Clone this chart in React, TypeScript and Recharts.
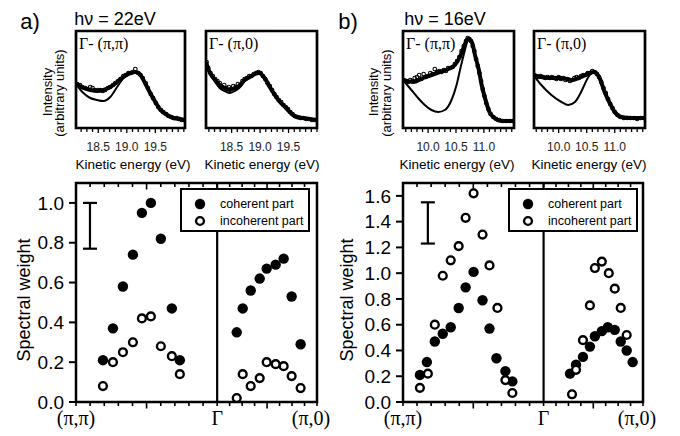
import React from 'react'
import {
  ComposedChart,
  Line,
  Scatter,
  XAxis,
  YAxis,
  ReferenceArea,
  ReferenceLine,
  ErrorBar,
  Legend,
} from 'recharts'

const SANS = "'Liberation Sans', Arial, Helvetica, sans-serif"
const SERIF = "'Liberation Serif', 'Times New Roman', serif"

// ---------- top row: energy distribution curves, [kinetic energy (eV), intensity (arb.)] ----------
const a1Fit = [[18.11, 44], [18.24, 40], [18.36, 38], [18.48, 37], [18.59, 38], [18.71, 41], [18.83, 46], [18.94, 51], [19.06, 55], [19.15, 56], [19.24, 53], [19.32, 45], [19.41, 35], [19.5, 26], [19.59, 18], [19.71, 13], [19.82, 10], [19.94, 9], [20.01, 8]]
const a1Low = [[18.11, 44], [18.24, 35], [18.36, 30], [18.48, 28], [18.59, 27], [18.71, 31], [18.83, 41], [18.94, 50], [19.06, 55]]
const a1Data = [[18.13, 44], [18.18, 43], [18.22, 41], [18.27, 40], [18.31, 39], [18.36, 41], [18.4, 40], [18.44, 38], [18.49, 38], [18.53, 38], [18.58, 37], [18.62, 38], [18.67, 40], [18.71, 41], [18.76, 43], [18.8, 45], [18.85, 47], [18.89, 49], [18.94, 52], [18.98, 53], [19.03, 55], [19.07, 55], [19.11, 56], [19.15, 59], [19.2, 55], [19.24, 53], [19.28, 50], [19.33, 45], [19.37, 40], [19.42, 34], [19.46, 30], [19.51, 25], [19.55, 21], [19.6, 18], [19.64, 16], [19.69, 14], [19.73, 12], [19.78, 11], [19.82, 10], [19.87, 10], [19.91, 9], [19.96, 8], [20.0, 8]]

const a2Fit = [[18.05, 66], [18.12, 55], [18.21, 48], [18.29, 43], [18.38, 40], [18.47, 38], [18.56, 40], [18.65, 43], [18.73, 48], [18.82, 51], [18.91, 54], [18.98, 55], [19.08, 50], [19.17, 41], [19.26, 33], [19.35, 26], [19.44, 21], [19.52, 16], [19.64, 11], [19.76, 10], [19.87, 9], [19.99, 8]]
const a2Low = [[18.05, 66], [18.12, 55], [18.21, 46], [18.29, 40], [18.38, 37], [18.47, 35], [18.56, 37], [18.65, 41], [18.73, 47], [18.82, 51], [18.91, 54]]
const a2Data = [[18.06, 66], [18.09, 60], [18.13, 55], [18.17, 52], [18.21, 49], [18.25, 47], [18.29, 45], [18.33, 41], [18.37, 43], [18.41, 40], [18.45, 41], [18.49, 39], [18.53, 42], [18.57, 41], [18.61, 44], [18.65, 43], [18.69, 47], [18.73, 49], [18.77, 50], [18.81, 52], [18.85, 52], [18.89, 54], [18.93, 55], [18.97, 56], [19.01, 55], [19.05, 52], [19.09, 49], [19.13, 45], [19.17, 42], [19.21, 38], [19.25, 34], [19.29, 31], [19.33, 28], [19.37, 26], [19.41, 23], [19.45, 21], [19.49, 19], [19.53, 16], [19.57, 14], [19.61, 12], [19.66, 11], [19.71, 10], [19.76, 10], [19.81, 9], [19.86, 9], [19.91, 8], [19.96, 8]]

const b1Fit = [[9.55, 48], [9.73, 46], [9.91, 50], [10.06, 53], [10.21, 56], [10.36, 59], [10.48, 63], [10.57, 71], [10.64, 81], [10.71, 89], [10.79, 85], [10.84, 73], [10.91, 58], [10.96, 43], [11.02, 30], [11.1, 16], [11.19, 10], [11.31, 7], [11.54, 7]]
const b1Low = [[9.55, 48], [9.7, 38], [9.82, 30], [9.94, 23], [10.06, 18], [10.18, 16], [10.3, 18], [10.42, 28], [10.51, 43], [10.58, 60], [10.66, 78], [10.71, 89]]
const b1Data = [[9.56, 48], [9.6, 47], [9.64, 46], [9.68, 48], [9.72, 47], [9.76, 50], [9.8, 51], [9.84, 53], [9.88, 49], [9.92, 54], [9.96, 51], [10.0, 52], [10.04, 55], [10.08, 54], [10.12, 59], [10.16, 56], [10.2, 57], [10.24, 56], [10.28, 58], [10.32, 57], [10.36, 60], [10.4, 60], [10.44, 61], [10.48, 64], [10.52, 67], [10.56, 71], [10.6, 77], [10.64, 82], [10.68, 87], [10.71, 90], [10.74, 89], [10.77, 87], [10.8, 82], [10.83, 77], [10.86, 69], [10.89, 62], [10.92, 55], [10.95, 47], [10.98, 39], [11.01, 32], [11.04, 25], [11.08, 19], [11.12, 14], [11.17, 11], [11.22, 9], [11.28, 8], [11.34, 7], [11.4, 7], [11.46, 7], [11.52, 7]]

const b2Fit = [[9.55, 53], [9.69, 51], [9.87, 50], [10.05, 50], [10.23, 48], [10.4, 51], [10.55, 55], [10.64, 56], [10.73, 50], [10.82, 36], [10.91, 25], [11.0, 16], [11.12, 11], [11.3, 10], [11.54, 10]]
const b2Low = [[9.55, 53], [9.69, 43], [9.87, 33], [10.05, 26], [10.17, 23], [10.29, 26], [10.4, 36], [10.52, 50], [10.61, 56], [10.64, 56]]
const b2Data = [[9.56, 53], [9.6, 52], [9.64, 51], [9.68, 52], [9.72, 51], [9.76, 50], [9.8, 51], [9.84, 50], [9.88, 51], [9.92, 50], [9.96, 49], [10.0, 51], [10.04, 49], [10.08, 50], [10.12, 48], [10.16, 49], [10.2, 47], [10.24, 48], [10.28, 50], [10.32, 51], [10.36, 50], [10.4, 52], [10.44, 53], [10.48, 53], [10.52, 55], [10.56, 55], [10.6, 57], [10.64, 56], [10.68, 54], [10.72, 51], [10.76, 46], [10.8, 40], [10.84, 35], [10.88, 29], [10.92, 24], [10.96, 20], [11.0, 16], [11.05, 13], [11.1, 11], [11.16, 10], [11.22, 10], [11.28, 10], [11.34, 10], [11.4, 9], [11.46, 10], [11.52, 10]]

const aTicksL = [18.2, 18.3, 18.4, 18.5, 18.6, 18.7, 18.8, 18.9, 19.0, 19.1, 19.2, 19.3, 19.4, 19.5, 19.6, 19.7, 19.8, 19.9, 20.0]
const aTicksR = [18.1, 18.2, 18.3, 18.4, 18.5, 18.6, 18.7, 18.8, 18.9, 19.0, 19.1, 19.2, 19.3, 19.4, 19.5, 19.6, 19.7, 19.8, 19.9, 20.0]
const bTicks = [9.6, 9.7, 9.8, 9.9, 10.0, 10.1, 10.2, 10.3, 10.4, 10.5, 10.6, 10.7, 10.8, 10.9, 11.0, 11.1, 11.2, 11.3, 11.4, 11.5]
const aLabels = [18.5, 19.0, 19.5]
const bLabels = [10.0, 10.5, 11.0]

// ---------- bottom row: spectral weight along (pi,pi) - Gamma - (pi,0) ----------
// k: distance along the cut, (pi,pi)=0, Gamma=sqrt2, (pi,0)=sqrt2+1
const GAMMA = 1.414
const K_END = 2.414
const kTicks = [0, 0.141, 0.283, 0.424, 0.566, 0.707, 0.849, 0.99, 1.131, 1.273, 1.414, 1.539, 1.664, 1.789, 1.914, 2.039, 2.164, 2.289, 2.414]
const kMajor = [0.707, 1.914]
const kLabels = [
  { k: 0, text: '(π,π)', dx: 0 },
  { k: 1.414, text: 'Γ', dx: 0 },
  { k: 2.414, text: '(π,0)', dx: -6 },
]
const SERIES = ['coherent part', 'incoherent part']

const aCohK = [0.27, 0.37, 0.47, 0.57, 0.66, 0.75, 0.85, 0.96, 1.04, 1.61, 1.67, 1.75, 1.84, 1.91, 2.0, 2.08, 2.16, 2.25]
const aCoh = [0.21, 0.37, 0.58, 0.74, 0.95, 1.0, 0.82, 0.47, 0.21, 0.35, 0.47, 0.56, 0.62, 0.67, 0.69, 0.72, 0.53, 0.29]
const aIncK = [0.27, 0.37, 0.47, 0.57, 0.66, 0.75, 0.85, 0.96, 1.04, 1.61, 1.67, 1.75, 1.84, 1.91, 2.0, 2.08, 2.16, 2.25]
const aInc = [0.08, 0.2, 0.25, 0.3, 0.42, 0.43, 0.28, 0.23, 0.14, 0.02, 0.14, 0.08, 0.12, 0.2, 0.19, 0.18, 0.13, 0.07]

const bCohK = [0.17, 0.24, 0.32, 0.4, 0.48, 0.56, 0.63, 0.71, 0.8, 0.87, 0.94, 1.03, 1.1, 1.68, 1.74, 1.81, 1.88, 1.93, 2.0, 2.06, 2.13, 2.19, 2.25, 2.31]
const bCoh = [0.21, 0.31, 0.47, 0.53, 0.58, 0.73, 0.89, 1.01, 0.79, 0.57, 0.34, 0.24, 0.16, 0.22, 0.29, 0.35, 0.43, 0.51, 0.55, 0.58, 0.56, 0.47, 0.4, 0.31]
const bIncK = [0.17, 0.25, 0.32, 0.4, 0.48, 0.56, 0.63, 0.71, 0.8, 0.87, 0.95, 1.03, 1.1, 1.7, 1.74, 1.81, 1.88, 1.93, 2.0, 2.07, 2.13, 2.19, 2.25]
const bInc = [0.11, 0.22, 0.6, 0.98, 1.1, 1.21, 1.43, 1.62, 1.3, 1.06, 0.73, 0.17, 0.07, 0.06, 0.25, 0.48, 0.75, 1.04, 1.09, 1.0, 0.88, 0.73, 0.52]

// typical error, drawn as a bar in the corner
const aErr = [{ k: 0.14, v: 0.885, err: 0.115 }]
const bErr = [{ k: 0.25, v: 1.39, err: 0.16 }]

const aYTicks = [0, 0.2, 0.4, 0.6, 0.8, 1.0]
const bYTicks = [0, 0.2, 0.4, 0.6, 0.8, 1.0, 1.2, 1.4, 1.6]

const pts = (rows: number[][]) => rows.map(([e, i]) => ({ e, i }))
const zipKV = (ks: number[], vs: number[]) => ks.map((k, idx) => ({ k, v: vs[idx] }))

const SmallRing = (p: any) => (
  <circle cx={p.cx} cy={p.cy} r={1.8} fill="none" stroke="#000" strokeWidth={1.1} />
)
const Dot = (p: any) => <circle cx={p.cx} cy={p.cy} r={5.2} fill="#000" />
const Ring = (p: any) => (
  <circle cx={p.cx} cy={p.cy} r={3.9} fill="#fff" stroke="#000" strokeWidth={2.4} />
)

function makeEnergyTick(labels: number[]) {
  return (props: any) => {
    const { x, y, payload } = props
    const v = payload.value
    const major = labels.some((l) => Math.abs(l - v) < 1e-6)
    return (
      <g>
        <line x1={x} x2={x} y1={y + 1} y2={y + (major ? 5 : 4)} stroke="#000" strokeWidth={1.3} />
        {major && (
          <text x={x} y={y + 23} textAnchor="middle" fontSize={12} fill="#222" fontFamily={SANS}>
            {v.toFixed(1)}
          </text>
        )}
      </g>
    )
  }
}

function makeKTick(plotH: number) {
  return (props: any) => {
    const { x, y, payload } = props
    const k = payload.value
    const major = kMajor.some((m) => Math.abs(m - k) < 1e-3)
    const lab = kLabels.find((l) => Math.abs(l.k - k) < 1e-3)
    const len = major ? 6.5 : 4
    return (
      <g>
        <line x1={x} x2={x} y1={y} y2={y + len} stroke="#000" strokeWidth={1.6} />
        <line x1={x} x2={x} y1={y - plotH} y2={y - plotH + len} stroke="#000" strokeWidth={1.6} />
        {lab && (
          <text x={x + lab.dx} y={y + 23} textAnchor="middle" fontSize={20} fill="#000" fontFamily={SERIF}>
            {lab.text}
          </text>
        )}
      </g>
    )
  }
}

const legendContent = (props: any) => {
  const items = (props.payload || []).filter((it: any) => SERIES.includes(it.value))
  return (
    <div
      style={{
        width: 126,
        height: 40,
        border: '2px solid #000',
        background: '#fff',
        position: 'relative',
        fontFamily: SANS,
        fontSize: 12.5,
        color: '#000',
      }}
    >
      {items.map((it: any, idx: number) => (
        <div
          key={it.value}
          style={{ position: 'absolute', left: 0, top: idx === 0 ? 6 : 22.7, height: 16, display: 'flex', alignItems: 'center', whiteSpace: 'nowrap' }}
        >
          <svg width={38} height={16}>
            {it.value === SERIES[0] ? (
              <circle cx={18} cy={8} r={5.2} fill="#000" />
            ) : (
              <circle cx={18} cy={8} r={3.9} fill="#fff" stroke="#000" strokeWidth={2.4} />
            )}
          </svg>
          <span>{it.value}</span>
        </div>
      ))}
    </div>
  )
}

function Spectrum({ left, width, domain, ticks, labels, fit, lower, data }: any) {
  return (
    <div style={{ position: 'absolute', left: left - 3, top: 28 }}>
      <ComposedChart width={width + 6} height={130} margin={{ top: 3, right: 3, left: 3, bottom: 0 }}>
        <XAxis
          type="number"
          dataKey="e"
          domain={domain}
          ticks={ticks}
          interval={0}
          allowDataOverflow
          axisLine={false}
          tickLine={false}
          tickSize={0}
          tickMargin={0}
          height={30}
          tick={makeEnergyTick(labels)}
        />
        <YAxis type="number" dataKey="i" domain={[0, 97]} hide allowDataOverflow />
        <Line data={pts(lower)} dataKey="i" type="monotone" stroke="#000" strokeWidth={2} dot={false} isAnimationActive={false} />
        <Line data={pts(fit)} dataKey="i" type="monotone" stroke="#000" strokeWidth={4} dot={false} isAnimationActive={false} />
        <Scatter data={pts(data)} dataKey="i" shape={SmallRing} isAnimationActive={false} />
        <ReferenceArea x1={domain[0]} x2={domain[1]} y1={0} y2={97} fill="none" fillOpacity={0} stroke="#000" strokeWidth={2.7} />
      </ComposedChart>
    </div>
  )
}

function WeightPanel({ left, width, yWidth, yMax, yTicks, coh, inc, err, legendLeft }: any) {
  const plotH = 219
  return (
    <div style={{ position: 'absolute', left, top: 180 }}>
      <ComposedChart width={width} height={252} margin={{ top: 3, right: 23, left: 0, bottom: 0 }}>
        <XAxis
          type="number"
          dataKey="k"
          domain={[0, K_END]}
          ticks={kTicks}
          interval={0}
          allowDataOverflow
          axisLine={false}
          tickLine={false}
          tickSize={0}
          tickMargin={0}
          height={30}
          tick={makeKTick(plotH)}
        />
        <YAxis
          type="number"
          dataKey="v"
          domain={[0, yMax]}
          ticks={yTicks}
          interval={0}
          width={yWidth}
          allowDataOverflow
          axisLine={false}
          stroke="#000"
          tickSize={7}
          tickMargin={5}
          tickLine={{ stroke: '#000', strokeWidth: 2 }}
          tick={{ fontSize: 19, fill: '#000', fontFamily: SANS }}
          tickFormatter={(v: number) => v.toFixed(1)}
        />
        <ReferenceLine x={GAMMA} stroke="#000" strokeWidth={2.2} />
        <ReferenceArea x1={0} x2={K_END} y1={0} y2={yMax} fill="none" fillOpacity={0} stroke="#000" strokeWidth={2.5} />
        <Scatter name="error" data={err} legendType="none" shape={() => <g />} isAnimationActive={false}>
          <ErrorBar dataKey="err" width={7} stroke="#000" strokeWidth={2.2} direction="y" isAnimationActive={false} />
        </Scatter>
        <Scatter name={SERIES[0]} data={coh} fill="#000" shape={Dot} isAnimationActive={false} />
        <Scatter name={SERIES[1]} data={inc} fill="#fff" shape={Ring} isAnimationActive={false} />
        <Legend
          layout="vertical"
          align="center"
          verticalAlign="middle"
          content={legendContent}
          wrapperStyle={{ left: legendLeft, top: 8, width: 130, height: 44 }}
        />
      </ComposedChart>
    </div>
  )
}

function Txt({ x, y, size, serif, rot, align = 'center', children }: any) {
  const tx = align === 'center' ? '-50%' : '0'
  return (
    <div
      style={{
        position: 'absolute',
        left: x,
        top: y,
        transform: `translate(${tx}, -50%)${rot ? ' rotate(-90deg)' : ''}`,
        fontFamily: serif ? SERIF : SANS,
        fontSize: size,
        lineHeight: 1,
        whiteSpace: 'nowrap',
        color: '#000',
      }}
    >
      {children}
    </div>
  )
}

export default function App() {
  return (
    <div style={{ position: 'absolute', left: 0, top: 0, width: 680, height: 436, background: '#fff', overflow: 'hidden' }}>
      <Spectrum left={76} width={109} domain={[18.11, 20.02]} ticks={aTicksL} labels={aLabels} fit={a1Fit} lower={a1Low} data={a1Data} />
      <Spectrum left={206} width={111} domain={[18.05, 20.0]} ticks={aTicksR} labels={aLabels} fit={a2Fit} lower={a2Low} data={a2Data} />
      <Spectrum left={403} width={111} domain={[9.55, 11.54]} ticks={bTicks} labels={bLabels} fit={b1Fit} lower={b1Low} data={b1Data} />
      <Spectrum left={534} width={111} domain={[9.56, 11.54]} ticks={bTicks} labels={bLabels} fit={b2Fit} lower={b2Low} data={b2Data} />

      <WeightPanel left={0} width={340} yWidth={76} yMax={1.1} yTicks={aYTicks} coh={zipKV(aCohK, aCoh)} inc={zipKV(aIncK, aInc)} err={aErr} legendLeft={180} />
      <WeightPanel left={340} width={326} yWidth={63} yMax={1.7} yTicks={bYTicks} coh={zipKV(bCohK, bCoh)} inc={zipKV(bIncK, bInc)} err={bErr} legendLeft={168} />

      <Txt x={30} y={22} size={22}>a)</Txt>
      <Txt x={115} y={18.5} size={18}>hν = 22eV</Txt>
      <Txt x={348} y={22} size={22}>b)</Txt>
      <Txt x={445} y={18.5} size={18}>hν = 16eV</Txt>

      <Txt x={47} y={92} size={13} rot>Intensity</Txt>
      <Txt x={59} y={93} size={13} rot>(arbitrary units)</Txt>
      <Txt x={373} y={92} size={13} rot>Intensity</Txt>
      <Txt x={386} y={93} size={13} rot>(arbitrary units)</Txt>

      <Txt x={133} y={165} size={13.5}>Kinetic energy (eV)</Txt>
      <Txt x={262} y={165} size={13.5}>Kinetic energy (eV)</Txt>
      <Txt x={457} y={165} size={13.5}>Kinetic energy (eV)</Txt>
      <Txt x={589} y={165} size={13.5}>Kinetic energy (eV)</Txt>

      <Txt x={79} y={43.5} size={16} serif align="left">Γ- (π,π)</Txt>
      <Txt x={209} y={43.5} size={16} serif align="left">Γ- (π,0)</Txt>
      <Txt x={406} y={43.5} size={16} serif align="left">Γ- (π,π)</Txt>
      <Txt x={537} y={43.5} size={16} serif align="left">Γ- (π,0)</Txt>

      <Txt x={24} y={300} size={18} rot>Spectral weight</Txt>
      <Txt x={347} y={300} size={18} rot>Spectral weight</Txt>
    </div>
  )
}
